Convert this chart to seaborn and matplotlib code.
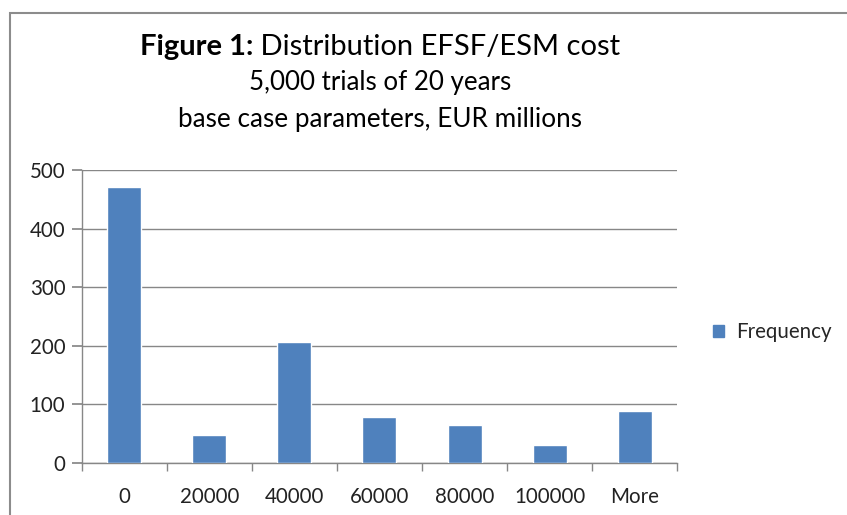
import matplotlib
matplotlib.use("Agg")
import matplotlib.pyplot as plt
import pandas as pd
import seaborn as sns
from matplotlib.patches import Patch, Rectangle

bins = ["0", "20000", "40000", "60000", "80000", "100000", "More"]
frequency = [471, 47, 207, 79, 64, 31, 89]
y_ticks = [0, 100, 200, 300, 400, 500]

BAR_COLOR = "#4F81BD"
GRID_COLOR = "#878787"
TEXT_COLOR = "#222222"

sns.set_theme(style="white")
plt.rcParams["font.family"] = ["Lato", "DejaVu Sans"]

df = pd.DataFrame({"bin": bins, "Frequency": frequency})

fig = plt.figure(figsize=(8.47, 5.15), dpi=100)
ax = fig.add_axes([0.0968, 0.101, 0.7025, 0.569])

sns.barplot(data=df, x="bin", y="Frequency", color=BAR_COLOR, width=0.4,
            saturation=1, ax=ax, zorder=3)

ax.set_xlim(-0.5, len(bins) - 0.5)
ax.set_ylim(0, 500)
ax.set_yticks(y_ticks)
ax.yaxis.grid(True, color=GRID_COLOR, linewidth=1, zorder=0)
ax.set_axisbelow(True)
ax.set_xlabel("")
ax.set_ylabel("")

for side in ("top", "right"):
    ax.spines[side].set_visible(False)
for side in ("left", "bottom"):
    ax.spines[side].set_color(GRID_COLOR)
    ax.spines[side].set_linewidth(1)

ax.tick_params(axis="x", which="major", length=0, pad=17, labelsize=14.8, labelcolor=TEXT_COLOR)
ax.set_xticks([i - 0.5 for i in range(len(bins) + 1)], minor=True)
ax.tick_params(axis="x", which="minor", length=6, color=GRID_COLOR, bottom=True)
ax.tick_params(axis="y", length=7, color=GRID_COLOR, left=True, labelsize=14.8,
               labelcolor=TEXT_COLOR, pad=5)

# title: bold "Figure 1:" followed by regular text, centred together
renderer = fig.canvas.get_renderer()
title_y = 0.908
bold_part = fig.text(0, title_y, "Figure 1:", fontsize=21, fontweight="bold",
                     ha="left", va="center", color="black")
rest_part = fig.text(0, title_y, " Distribution EFSF/ESM cost", fontsize=21,
                     ha="left", va="center", color="black")
w_bold = bold_part.get_window_extent(renderer).width / fig.bbox.width
w_rest = rest_part.get_window_extent(renderer).width / fig.bbox.width
start = 0.449 - (w_bold + w_rest) / 2
bold_part.set_x(start)
rest_part.set_x(start + w_bold)

fig.text(0.449, 0.84, "5,000 trials of 20 years", ha="center", va="center",
         fontsize=18.6, color="black")
fig.text(0.449, 0.767, "base case parameters, EUR millions", ha="center",
         va="center", fontsize=18.8, color="black")

fig.legend(handles=[Patch(color=BAR_COLOR, label="Frequency")],
           loc="center left", bbox_to_anchor=(0.82, 0.355), frameon=False,
           fontsize=14.8, handlelength=0.55, handleheight=0.55, handletextpad=0.55)

fig.patches.append(Rectangle((10 / 847, -0.05), 1.0, 1 - 13 / 515 + 0.05,
                             transform=fig.transFigure, fill=False,
                             edgecolor="#8c8c8c", linewidth=1.5))

fig.savefig("out.png", dpi=100)
